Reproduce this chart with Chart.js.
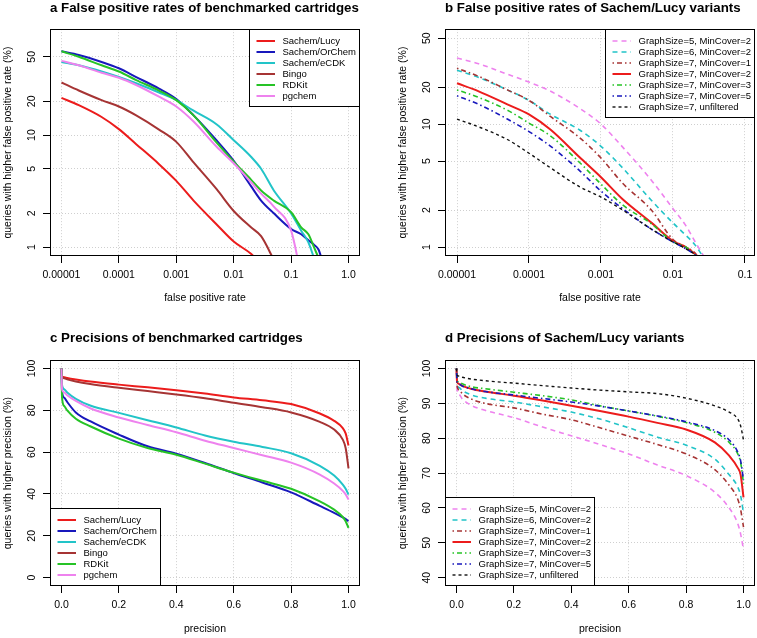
<!DOCTYPE html>
<html>
<head>
<meta charset="utf-8">
<title>Sachem benchmark</title>
<script src="https://cdn.jsdelivr.net/npm/chart.js@4.4.1/dist/chart.umd.min.js"></script>
<style>
  html, body { margin: 0; padding: 0; background: #fff; }
  #wrap { position: relative; width: 757px; height: 638px; }
  canvas { position: absolute; }
</style>
</head>
<body>
<div id="wrap">
  <canvas id="chartA" width="378" height="318" style="left:0;top:0"></canvas>
  <canvas id="chartB" width="379" height="318" style="left:378px;top:0"></canvas>
  <canvas id="chartC" width="378" height="320" style="left:0;top:318px"></canvas>
  <canvas id="chartD" width="379" height="320" style="left:378px;top:318px"></canvas>
</div>
<script>
const FONT = '"Liberation Sans", Arial, Helvetica, sans-serif';

// a: false positive rates of benchmarked cartridges
const fprGridA = [1e-5, 2e-5, 5e-5, 1e-4, 2e-4, 5e-4, 1e-3, 2e-3, 5e-3, 1e-2, 2e-2, 3e-2, 5e-2, 0.1, 0.15, 0.2, 0.25, 0.3, 0.35];
const cartridges = ['Sachem/Lucy', 'Sachem/OrChem', 'Sachem/eCDK', 'Bingo', 'RDKit', 'pgchem'];
const fprLucy   = [21.5, 18.5, 14.5, 11.3, 8.3, 5.5, 3.9, 2.6, 1.6, 1.12, 0.87, 0.7, null, null, null, null, null, null, null];
const fprOrChem = [56, 52, 45, 39.5, 33, 26, 21, 15, 9, 5.9, 3.5, 2.6, 2.0, 1.45, 1.3, 1.15, 1.05, 0.95, 0.75];
const fprECDK   = [45, 42, 37, 33, 29, 24, 20.5, 16.5, 12.5, 9, 6.4, 5, 3.2, 2.0, 1.4, 1.1, 0.8, null, null];
const fprBingo  = [29.5, 25, 20.5, 18, 15, 11.2, 8.7, 5.7, 3.3, 2.1, 1.5, 1.25, 0.77, null, null, null, null, null, null];
const fprRDKit  = [56, 50, 42, 37, 31, 25, 20.5, 15, 8.6, 5.8, 4.0, 3.2, 2.6, 2.05, 1.5, 1.3, 1.0, 0.8, null];
const fprPgchem = [46, 42, 36, 32.5, 28, 22, 18, 13.2, 7.9, 5.6, 3.8, 3.0, 2.3, 1.4, 0.55, null, null, null, null];

// b: false positive rates of Sachem/Lucy variants
const fprGridB = [1e-5, 2e-5, 5e-5, 1e-4, 2e-4, 5e-4, 1e-3, 2e-3, 5e-3, 1e-2, 1.5e-2, 2e-2, 2.5e-2, 3e-2];
const variants = ['GraphSize=5, MinCover=2', 'GraphSize=6, MinCover=2', 'GraphSize=7, MinCover=1',
  'GraphSize=7, MinCover=2', 'GraphSize=7, MinCover=3', 'GraphSize=7, MinCover=5', 'GraphSize=7, unfiltered'];
const fprG5M2 = [34.5, 31, 25.5, 22, 18.5, 13.5, 10, 6.5, 3.5, 2.05, 1.5, 1.12, 0.9, 0.75];
const fprG6M2 = [27.5, 24, 19, 15.6, 12, 9, 6.6, 4.4, 2.4, 1.57, 1.25, 1.05, 0.87, 0.75];
const fprG7M1 = [28.5, 24.5, 19, 15.6, 11.5, 7.8, 5.3, 3.3, 2.0, 1.15, 1.0, 0.9, 0.75, null];
const fprG7M2 = [21.5, 18.5, 14.5, 12, 9, 5.4, 3.7, 2.45, 1.58, 1.12, 1.0, 0.88, 0.75, null];
const fprG7M3 = [19, 16.5, 13, 10.2, 8, 4.9, 3.25, 2.2, 1.55, 1.1, 1.0, 0.87, 0.75, null];
const fprG7M5 = [17, 14.5, 11, 8.7, 6.6, 4.2, 2.85, 2.05, 1.4, 1.1, 0.97, 0.87, 0.75, null];
const fprG7Unf = [11, 9.5, 7.5, 5.8, 4.4, 3.1, 2.55, 2.0, 1.4, 1.1, 0.97, 0.87, 0.75, null];

// c, d: precisions
const precGrid = [0, 0.002, 0.01, 0.02, 0.05, 0.1, 0.2, 0.3, 0.4, 0.5, 0.6, 0.7, 0.8, 0.9, 0.95, 0.98, 0.99, 1.0];
const precLucy   = [100, 96.2, 95.8, 95.5, 94.8, 93.8, 92.3, 91, 89.6, 88, 86.2, 84.8, 83, 78.5, 75, 71.5, 69, 63.2];
const precOrChem = [100, 89, 86, 84, 79, 74.8, 68.4, 62.8, 59.3, 54.8, 50, 45.5, 40.8, 34.3, 31, 28.8, 28, 27];
const precECDK   = [100, 92, 90, 88.5, 85.5, 82.3, 78.8, 75.3, 71.8, 68, 65, 62.5, 59.5, 53.5, 48.8, 44.5, 42.5, 39.7];
const precBingo  = [100, 96, 95.3, 94.8, 93.8, 92.6, 90.8, 89.2, 87.6, 85.8, 83.6, 81.5, 79, 74.5, 70.8, 66, 62, 52.3];
const precRDKit  = [100, 86, 82, 80, 76, 72.4, 66.5, 62, 58.8, 54.5, 50.2, 46.3, 42.5, 36.5, 32.5, 29, 27, 23.8];
const precPgchem = [100, 90, 88.5, 87.2, 84.5, 81, 76.6, 73, 69.5, 65.5, 62, 58.5, 55, 49.3, 45, 41.5, 39.8, 37.3];

const precG5M2 = [100, 94, 92.5, 91.3, 89.5, 88, 85.9, 83.2, 80.7, 78.2, 75.5, 72.3, 69.3, 64.5, 60, 55.5, 52.5, 48];
const precG6M2 = [100, 95.5, 94.5, 93.7, 92.5, 91.5, 90.4, 89, 87.5, 85.5, 83, 80.3, 78, 74, 69.5, 66, 63.5, 58.5];
const precG7M1 = [100, 95, 93.8, 92.8, 91.3, 90, 88.7, 86.9, 85.3, 83, 80.6, 78.2, 75.5, 71, 66.5, 62.5, 59.5, 54.5];
const precG7M2 = [100, 96.3, 95.5, 95, 94.2, 93.4, 92.2, 90.8, 89.3, 87.8, 86.2, 84.4, 82.5, 78.8, 75, 71.5, 69.5, 63];
const precG7M3 = [100, 96.8, 96, 95.6, 94.8, 94.2, 93.2, 92.2, 91, 89.3, 87.8, 86.3, 84.5, 81.7, 78.8, 75.5, 73, 67];
const precG7M5 = [100, 96.2, 95.5, 95, 94.2, 93.4, 92.4, 91.4, 90.4, 89.2, 87.8, 86.4, 84.7, 82.2, 79.5, 76, 73.5, 68];
const precG7Unf = [100, 98.2, 97.8, 97.5, 97, 96.5, 95.8, 95.1, 94.4, 93.8, 93.3, 92.8, 91.5, 89.3, 87.5, 85.5, 83.5, 79.5];

// tick values / labels
const fprTicksA = [1e-5, 1e-4, 1e-3, 1e-2, 0.1, 1];
const fprLabelsA = ['0.00001', '0.0001', '0.001', '0.01', '0.1', '1.0'];
const fprTicksB = [1e-5, 1e-4, 1e-3, 1e-2, 0.1];
const fprLabelsB = ['0.00001', '0.0001', '0.001', '0.01', '0.1'];
const pctLogTicks = [1, 2, 5, 10, 20, 50];
const precTicks = [0, 0.2, 0.4, 0.6, 0.8, 1];
const precLabels = ['0.0', '0.2', '0.4', '0.6', '0.8', '1.0'];
const pctTicksC = [0, 20, 40, 60, 80, 100];
const pctTicksD = [40, 50, 60, 70, 80, 90, 100];

const RED = '#ec1c1c', BLUE = '#1818bc', CYAN = '#22c4c8', BROWN = '#a63434',
      GREEN = '#26c326', VIOLET = '#ee82ee', BLACK = '#111111';
const DASHED = [5, 4], DOTDASH = [1.5, 3, 5, 3], SHORT = [3, 3];

function pts(xs, ys) {
  return xs.map((x, i) => ({ x: x, y: ys[i] }));
}

function series(label, xs, ys, color, width, dash, i) {
  return { label: label, data: pts(xs, ys), borderColor: color, backgroundColor: color,
           borderWidth: width, borderDash: dash || [], order: -i };
}

// plot box and R-style legend box
const rFrame = {
  id: 'rFrame',
  afterDatasetsDraw(chart, args, opts) {
    const ctx = chart.ctx, ca = chart.chartArea;
    const items = chart.data.datasets;
    ctx.save();
    ctx.font = '9.5px ' + FONT;
    const textW = Math.max(...items.map(d => ctx.measureText(d.label).width));
    const w = Math.round(33.5 + textW + 4), h = Math.round(12 + 11 * (items.length - 1) + 10.5);
    const x0 = opts.corner === 'tr' ? Math.round(ca.right) - w : Math.round(ca.left);
    const y0 = opts.corner === 'tr' ? Math.round(ca.top) : Math.round(ca.bottom) - h;
    ctx.fillStyle = '#fff';
    ctx.fillRect(x0, y0, w, h);
    ctx.strokeStyle = '#000';
    ctx.lineWidth = 1;
    ctx.strokeRect(x0 + 0.5, y0 + 0.5, w - 1, h - 1);
    items.forEach((d, i) => {
      const y = y0 + 12 + 11 * i;
      ctx.beginPath();
      ctx.setLineDash(d.borderDash || []);
      ctx.strokeStyle = d.borderColor;
      ctx.lineWidth = d.borderWidth;
      ctx.moveTo(x0 + 7.5, y);
      ctx.lineTo(x0 + 26, y);
      ctx.stroke();
      ctx.setLineDash([]);
      ctx.fillStyle = '#000';
      ctx.textBaseline = 'middle';
      ctx.textAlign = 'left';
      ctx.fillText(d.label, x0 + 33.5, y + 0.5);
    });
    ctx.strokeStyle = '#000';
    ctx.lineWidth = 1;
    const L = Math.round(ca.left), T = Math.round(ca.top), R = Math.round(ca.right), B = Math.round(ca.bottom);
    ctx.strokeRect(L + 0.5, T + 0.5, R - L - 1, B - T - 1);
    ctx.restore();
  }
};

const gridStyle = { color: '#cfcfcf', lineWidth: 1, tickLength: 7, tickColor: '#000', tickWidth: 1 };
const tickFont = { family: FONT, size: 10.5 };

function xScale(type, min, max, vals, labels, height, title, titlePad) {
  return {
    type: type, min: min, max: max,
    afterBuildTicks: s => { s.ticks = vals.map(v => ({ value: v })); },
    afterFit: s => { s.height = height; s.paddingLeft = 0; s.paddingRight = 0; },
    ticks: { autoSkip: false, minRotation: 0, maxRotation: 0, padding: 6, color: '#000', font: tickFont,
             callback: (v, i) => labels[i] },
    grid: gridStyle,
    border: { display: false, dash: [1, 2] },
    title: { display: true, text: title, color: '#000', font: tickFont, padding: { top: 0, bottom: titlePad } }
  };
}

function yScale(type, min, max, vals, pad, title) {
  return {
    type: type, min: min, max: max,
    afterBuildTicks: s => { s.ticks = vals.map(v => ({ value: v })); },
    afterFit: s => { s.width = 50; s.paddingTop = 0; s.paddingBottom = 0; },
    ticks: { autoSkip: false, minRotation: 90, maxRotation: 90, crossAlign: 'center', padding: pad,
             color: '#000', font: tickFont, callback: (v) => String(v) },
    grid: gridStyle,
    border: { display: false, dash: [1, 2] },
    title: { display: true, text: title, color: '#000', font: tickFont, padding: { top: 2.2, bottom: 0 } }
  };
}

function makeChart(id, cfg) {
  return new Chart(document.getElementById(id), {
    type: 'line',
    data: { datasets: cfg.datasets },
    options: {
      responsive: false,
      animation: false,
      devicePixelRatio: 1,
      layout: { padding: { left: cfg.padLeft, right: cfg.padRight, top: 0, bottom: 0 } },
      elements: {
        point: { radius: 0 },
        line: { cubicInterpolationMode: 'monotone', fill: false, borderJoinStyle: 'round' }
      },
      plugins: {
        legend: { display: false },
        tooltip: { enabled: false },
        title: {
          display: true, text: cfg.title, align: 'start', fullSize: false, color: '#000',
          font: { family: FONT, size: 13.3, weight: 'bold' },
          padding: cfg.titlePad
        },
        rFrame: { corner: cfg.corner }
      },
      scales: { x: cfg.x, y: cfg.y }
    },
    plugins: [rFrame]
  });
}

window.onload = function () {
  const lw = 2;
  makeChart('chartA', {
    title: 'a False positive rates of benchmarked cartridges',
    titlePad: { top: 0.3, bottom: 12.9 }, padLeft: 0, padRight: 18, corner: 'tr',
    datasets: [
      series(cartridges[0], fprGridA, fprLucy, RED, lw, null, 0),
      series(cartridges[1], fprGridA, fprOrChem, BLUE, lw, null, 1),
      series(cartridges[2], fprGridA, fprECDK, CYAN, lw, null, 2),
      series(cartridges[3], fprGridA, fprBingo, BROWN, lw, null, 3),
      series(cartridges[4], fprGridA, fprRDKit, GREEN, lw, null, 4),
      series(cartridges[5], fprGridA, fprPgchem, VIOLET, lw, null, 5)
    ],
    x: xScale('logarithmic', Math.pow(10, -5.2), Math.pow(10, 0.2), fprTicksA, fprLabelsA, 62, 'false positive rate', 13.9),
    y: yScale('logarithmic', Math.pow(10, -0.08), Math.pow(10, 1.946), pctLogTicks, 5, 'queries with higher false positive rate (%)')
  });

  makeChart('chartB', {
    title: 'b False positive rates of Sachem/Lucy variants',
    titlePad: { top: 0.3, bottom: 12.9 }, padLeft: 17, padRight: 2, corner: 'tr',
    datasets: [
      series(variants[0], fprGridB, fprG5M2, VIOLET, 1.6, DASHED, 0),
      series(variants[1], fprGridB, fprG6M2, CYAN, 1.6, DASHED, 1),
      series(variants[2], fprGridB, fprG7M1, BROWN, 1.6, DOTDASH, 2),
      series(variants[3], fprGridB, fprG7M2, RED, 2, null, 3),
      series(variants[4], fprGridB, fprG7M3, GREEN, 1.6, DOTDASH, 4),
      series(variants[5], fprGridB, fprG7M5, BLUE, 1.6, DOTDASH, 5),
      series(variants[6], fprGridB, fprG7Unf, BLACK, 1.4, SHORT, 6)
    ],
    x: xScale('logarithmic', Math.pow(10, -5.1667), Math.pow(10, -0.861), fprTicksB, fprLabelsB, 62, 'false positive rate', 13.9),
    y: yScale('logarithmic', Math.pow(10, -0.073), Math.pow(10, 1.773), pctLogTicks, 5, 'queries with higher false positive rate (%)')
  });

  makeChart('chartC', {
    title: 'c Precisions of benchmarked cartridges',
    titlePad: { top: 12.6, bottom: 13.6 }, padLeft: 0, padRight: 18, corner: 'bl',
    datasets: [
      series(cartridges[0], precGrid, precLucy, RED, lw, null, 0),
      series(cartridges[1], precGrid, precOrChem, BLUE, lw, null, 1),
      series(cartridges[2], precGrid, precECDK, CYAN, lw, null, 2),
      series(cartridges[3], precGrid, precBingo, BROWN, lw, null, 3),
      series(cartridges[4], precGrid, precRDKit, GREEN, lw, null, 4),
      series(cartridges[5], precGrid, precPgchem, VIOLET, lw, null, 5)
    ],
    x: xScale('linear', -0.04, 1.04, precTicks, precLabels, 52, 'precision', 2.3),
    y: yScale('linear', -4, 104, pctTicksC, 2, 'queries with higher precision (%)')
  });

  makeChart('chartD', {
    title: 'd Precisions of Sachem/Lucy variants',
    titlePad: { top: 12.6, bottom: 13.6 }, padLeft: 17, padRight: 2, corner: 'bl',
    datasets: [
      series(variants[0], precGrid, precG5M2, VIOLET, 1.6, DASHED, 0),
      series(variants[1], precGrid, precG6M2, CYAN, 1.6, DASHED, 1),
      series(variants[2], precGrid, precG7M1, BROWN, 1.6, DOTDASH, 2),
      series(variants[3], precGrid, precG7M2, RED, 2, null, 3),
      series(variants[4], precGrid, precG7M3, GREEN, 1.6, DOTDASH, 4),
      series(variants[5], precGrid, precG7M5, BLUE, 1.6, DOTDASH, 5),
      series(variants[6], precGrid, precG7Unf, BLACK, 1.4, SHORT, 6)
    ],
    x: xScale('linear', -0.04, 1.04, precTicks, precLabels, 52, 'precision', 2.3),
    y: yScale('linear', 37.6, 102.4, pctTicksD, 2, 'queries with higher precision (%)')
  });
};
</script>
</body>
</html>
